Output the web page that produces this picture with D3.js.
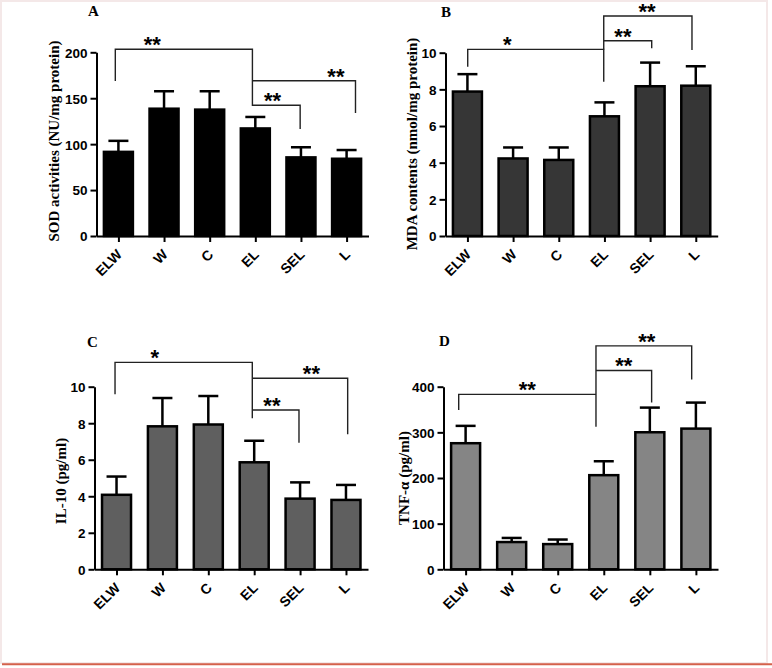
<!DOCTYPE html>
<html>
<head>
<meta charset="utf-8">
<script src="https://cdn.jsdelivr.net/npm/d3@7"></script>
<style>
  html, body { margin: 0; padding: 0; background: #fff; }
  svg { display: block; }
</style>
</head>
<body>
<svg id="chart" width="772" height="668"></svg>
<script>
// ---------------- DATA ----------------
const categories = ["ELW", "W", "C", "EL", "SEL", "L"];

const sodMean = [91.6, 138.6, 137.6, 117.1, 85.6, 84.1];
const sodSem  = [12, 19, 20, 12.5, 11, 9.5];
const sodTicks = [0, 50, 100, 150, 200];

const mdaMean = [7.88, 4.23, 4.15, 6.53, 8.17, 8.2];
const mdaSem  = [0.95, 0.6, 0.68, 0.76, 1.29, 1.06];
const mdaTicks = [0, 2, 4, 6, 8, 10];

const il10Mean = [4.08, 7.83, 7.93, 5.86, 3.87, 3.8];
const il10Sem  = [1.0, 1.55, 1.56, 1.18, 0.89, 0.82];
const il10Ticks = [0, 2, 4, 6, 8, 10];

const tnfMean = [276.2, 59.7, 55.2, 206.2, 300.2, 308.2];
const tnfSem  = [38, 9, 10, 30.5, 54, 57];
const tnfTicks = [0, 100, 200, 300, 400];

// significance brackets (levels in data units)
const sodBrackets = [
  { from: "ELW", to: "EL",  level: 203.3, fromEnd: 168.7, toEnd: 141.5, label: "**" },
  { from: "EL",  to: "L",   level: 169.1, fromEnd: 169.1, toEnd: 133.9, label: "**" },
  { from: "EL",  to: "SEL", level: 142.3, fromEnd: 142.3, toEnd: 116.5, label: "**" }
];
const mdaBrackets = [
  { from: "ELW", to: "EL",  level: 10.18, fromEnd: 9.24,  toEnd: 8.42,  label: "*" },
  { from: "EL",  to: "SEL", level: 10.65, fromEnd: 10.65, toEnd: 10.24, label: "**" },
  { from: "EL",  to: "L",   level: 12.0,  fromEnd: 10.18, toEnd: 10.15, label: "**" }
];
const il10Brackets = [
  { from: "ELW", to: "EL",  level: 11.33, fromEnd: 9.58,  toEnd: 8.27, label: "*" },
  { from: "EL",  to: "L",   level: 10.46, fromEnd: 10.46, toEnd: 7.39, label: "**" },
  { from: "EL",  to: "SEL", level: 8.72,  fromEnd: 8.72,  toEnd: 6.93, label: "**" }
];
const tnfBrackets = [
  { from: "ELW", to: "EL",  level: 383.1, fromEnd: 348.7, toEnd: 383.1, label: "**" },
  { from: "EL",  to: "SEL", level: 435.6, fromEnd: 435.6, toEnd: 365.4, label: "**" },
  { from: "EL",  to: "L",   level: 489.5, fromEnd: 312.2, toEnd: 415.9, label: "**" }
];

// ---------------- LAYOUT ----------------
const panels = [
  { title: "A", ylabel: "SOD activities (NU/mg protein)", means: sodMean, sems: sodSem, ticks: sodTicks,
    brackets: sodBrackets, fill: "#000000",
    x0: 96.5, x1: 368.5, yTop: 52.3, yBase: 236, titleX: 88, titleY: 15.5, labelX: 54, labelY: 141,
    bdx: { ELW: -3.1, EL: -2.9, SEL: -0.8, L: 8.9 }, starFrac: [0.27, 0.81, 0.42] },
  { title: "B", ylabel: "MDA contents (nmol/mg protein)", means: mdaMean, sems: mdaSem, ticks: mdaTicks,
    brackets: mdaBrackets, fill: "#363636",
    x0: 445.5, x1: 717.7, yTop: 52.7, yBase: 236, titleX: 441, titleY: 16.5, labelX: 412, labelY: 144,
    bdx: { ELW: 0.3, EL: -0.7, SEL: 1.6, L: -3.8 }, starFrac: [0.29, 0.40, 0.49] },
  { title: "C", ylabel: "IL-10 (pg/ml)", means: il10Mean, sems: il10Sem, ticks: il10Ticks,
    brackets: il10Brackets, fill: "#5f5f5f",
    x0: 94.5, x1: 368, yTop: 386.7, yBase: 569.3, titleX: 87, titleY: 346.5, labelX: 61, labelY: 481,
    bdx: { ELW: -1.5, EL: -1.9, SEL: -1.1, L: 1.7 }, starFrac: [0.29, 0.62, 0.42] },
  { title: "D", ylabel: "TNF-\u03b1 (pg/ml)", means: tnfMean, sems: tnfSem, ticks: tnfTicks,
    brackets: tnfBrackets, fill: "#858585",
    x0: 443.5, x1: 718, yTop: 386.7, yBase: 569.3, titleX: 439, titleY: 346, labelX: 403.5, labelY: 478,
    bdx: { ELW: -6.9, EL: -7.8, SEL: 1.8, L: -4.2 }, starFrac: [0.50, 0.50, 0.53] }
];

const svg = d3.select("#chart");

// faint outer frame and red rule
svg.append("rect").attr("x", 1).attr("y", 1).attr("width", 766).attr("height", 662)
  .attr("fill", "none").attr("stroke", "#f4e8e8").attr("stroke-width", 2);
svg.append("line").attr("x1", 2).attr("x2", 772).attr("y1", 664.3).attr("y2", 664.3)
  .attr("stroke", "#d4614b").attr("stroke-width", 2);

const tickFont = "'Liberation Sans', Arial, sans-serif";
const serifFont = "'Liberation Serif', 'Times New Roman', serif";

panels.forEach(p => {
  const g = svg.append("g");
  const x = d3.scalePoint().domain(categories).range([p.x0, p.x1]).padding(0.48);
  const yMax = p.ticks[p.ticks.length - 1];
  const y = d3.scaleLinear().domain([0, yMax]).range([p.yBase, p.yTop]);

  const barW = 29, capW = 20;

  // error bars
  const data = categories.map((c, i) => ({ c, m: p.means[i], s: p.sems[i] }));
  g.selectAll(".err").data(data).enter().append("line")
    .attr("x1", d => x(d.c)).attr("x2", d => x(d.c))
    .attr("y1", d => y(d.m)).attr("y2", d => y(d.m + d.s))
    .attr("stroke", "#000").attr("stroke-width", 2.5);
  g.selectAll(".cap").data(data).enter().append("line")
    .attr("x1", d => x(d.c) - capW / 2).attr("x2", d => x(d.c) + capW / 2)
    .attr("y1", d => y(d.m + d.s)).attr("y2", d => y(d.m + d.s))
    .attr("stroke", "#000").attr("stroke-width", 2.5);

  // bars
  g.selectAll(".bar").data(data).enter().append("rect")
    .attr("x", d => x(d.c) - barW / 2).attr("width", barW)
    .attr("y", d => y(d.m)).attr("height", d => p.yBase - y(d.m))
    .attr("fill", p.fill).attr("stroke", "#000").attr("stroke-width", 2.5);

  // y axis
  const ya = g.append("g").attr("transform", `translate(${p.x0},0)`)
    .call(d3.axisLeft(y).tickValues(p.ticks).tickSize(6).tickSizeOuter(0).tickPadding(3).tickFormat(d3.format("d")));
  ya.select(".domain").attr("stroke-width", 2);
  ya.selectAll(".tick line").attr("stroke-width", 2);
  ya.selectAll(".tick text").attr("font-family", tickFont).attr("font-weight", "bold")
    .attr("font-size", 13.5).attr("fill", "#000").attr("dy", "0.36em");

  // x axis
  const xa = g.append("g").attr("transform", `translate(0,${p.yBase})`)
    .call(d3.axisBottom(x).tickSize(6).tickSizeOuter(0));
  xa.select(".domain").attr("stroke-width", 2);
  xa.selectAll(".tick line").attr("stroke-width", 2);
  xa.selectAll(".tick text").attr("font-family", tickFont).attr("font-weight", "bold")
    .attr("font-size", 14).attr("fill", "#000")
    .attr("x", 0).attr("y", 0).attr("dy", 0)
    .attr("transform", "translate(4,19.5) rotate(-45)")
    .style("text-anchor", "end");

  // title
  g.append("text").attr("x", p.titleX).attr("y", p.titleY).text(p.title)
    .attr("font-family", serifFont).attr("font-weight", "bold").attr("font-size", 15);

  // y label
  g.append("text").attr("transform", `translate(${p.labelX},${p.labelY}) rotate(-90)`)
    .attr("dy", "0.35em").attr("text-anchor", "middle").text(p.ylabel)
    .attr("font-family", serifFont).attr("font-weight", "bold").attr("font-size", 15);

  // brackets
  p.brackets.forEach((b, i) => {
    const xa_ = x(b.from) + (p.bdx[b.from] || 0);
    const xb_ = x(b.to) + (p.bdx[b.to] || 0);
    const yl = y(b.level);
    const path = d3.path();
    path.moveTo(xa_, y(b.fromEnd));
    path.lineTo(xa_, yl);
    path.lineTo(xb_, yl);
    path.lineTo(xb_, y(b.toEnd));
    g.append("path").attr("d", path.toString()).attr("fill", "none")
      .attr("stroke", "#222").attr("stroke-width", 1.4);
    g.append("text").attr("x", xa_ + p.starFrac[i] * (xb_ - xa_)).attr("y", yl + 3)
      .attr("text-anchor", "middle").text(b.label)
      .attr("font-family", tickFont).attr("font-weight", "bold").attr("font-size", 22);
  });
});
</script>
</body>
</html>
